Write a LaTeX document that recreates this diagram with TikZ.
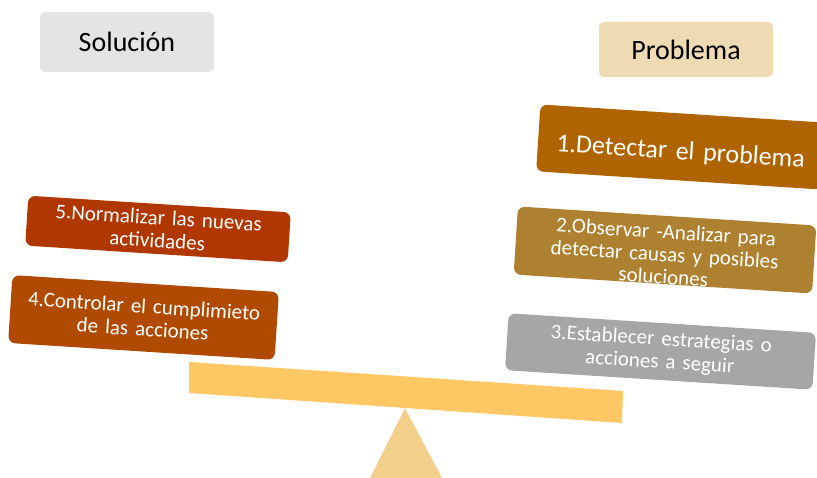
\documentclass[tikz,border=0pt]{standalone}
\usepackage{fontspec}
\setmainfont{Carlito}
\definecolor{solfill}{HTML}{E4E4E4}
\definecolor{probfill}{HTML}{EEDAB3}
\definecolor{cone}{HTML}{AF6400}
\definecolor{ctwo}{HTML}{AE8130}
\definecolor{cthree}{HTML}{A6A6A6}
\definecolor{cfour}{HTML}{B04A00}
\definecolor{cfive}{HTML}{B13700}
\definecolor{beamc}{HTML}{FFC864}
\definecolor{fulcrum}{HTML}{F2D08C}
\begin{document}
\begin{tikzpicture}[x=1pt,y=-1pt,
  header/.style={rounded corners=5pt, minimum width=174pt, minimum height=58pt, inner sep=0pt,
    font=\fontsize{28}{34}\selectfont, text=black},
  stepbox/.style={rounded corners=7pt, inner sep=0pt, align=center, text=white, rotate=-3.65,
    font=\fontsize{21}{23}\selectfont}]
\clip (0,0) rectangle (817,478);
\fill[white] (0,0) rectangle (817,478);
% headers
\node[header, fill=solfill, minimum height=60pt] (sol) at (127,42) {Solución};
\node[header, fill=probfill, minimum height=55pt] (prob) at (686,49.5) {Problema};
% steps
\node[stepbox, fill=cone, minimum width=286pt, minimum height=67pt, text width=280pt,
  font=\fontsize{26}{30}\selectfont] (s1) at (681,147) {\rule{0pt}{29pt}1.Detectar el problema};
\node[stepbox, fill=ctwo, minimum width=299pt, minimum height=68pt, text width=290pt,
  font=\fontsize{21}{22.5}\selectfont] (s2) at (665,250) {\rule{0pt}{23pt}2.Observar -Analizar para\\detectar causas y posibles\\soluciones};
\node[stepbox, fill=cthree, minimum width=308pt, minimum height=57pt, text width=300pt] (s3) at (660.5,351.5) {3.Establecer estrategias o\\acciones a seguir};
\node[stepbox, fill=cfour, minimum width=267pt, minimum height=68pt, text width=260pt] (s4) at (143.5,317.5) {4.Controlar el cumplimieto\\de las acciones};
\node[stepbox, fill=cfive, minimum width=263pt, minimum height=50pt, text width=256pt] (s5) at (158,229) {5.Normalizar las nuevas\\actividades};
% fulcrum and beam
\fill[fulcrum] (405,408) -- (442,478) -- (370,478) -- cycle;
\fill[beamc] (189,362) -- (623,391) -- (622,423) -- (189,393) -- cycle;
\end{tikzpicture}
\end{document}
